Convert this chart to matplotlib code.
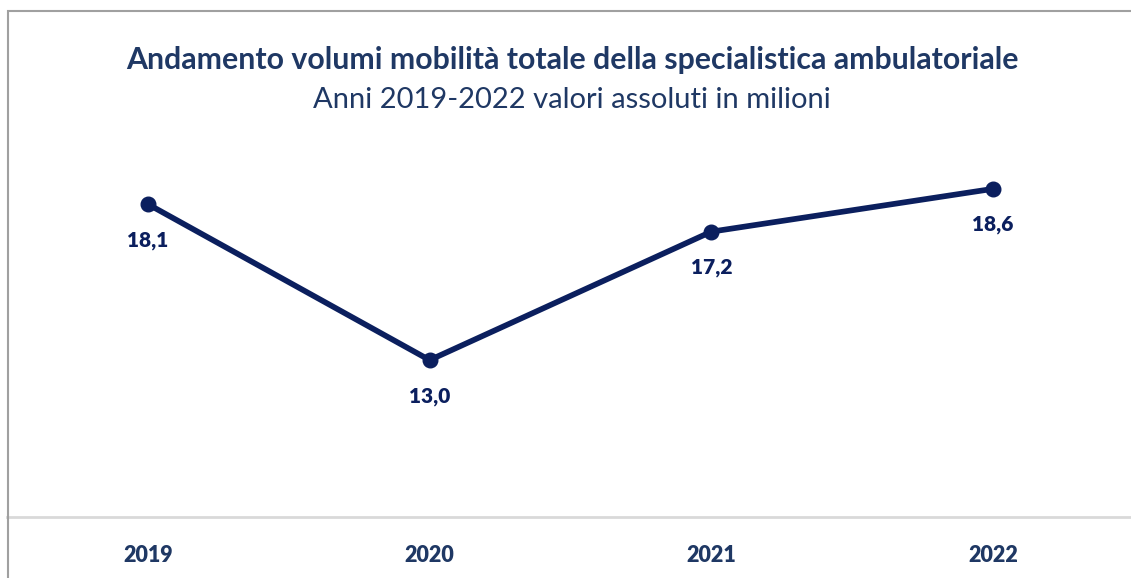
import matplotlib
matplotlib.use('Agg')
import matplotlib.pyplot as plt
from matplotlib.patches import Rectangle

# Dati: volumi di mobilità (milioni)
anni = ['2019', '2020', '2021', '2022']
volumi = [18.1, 13.0, 17.2, 18.6]

blu = '#0b1f5e'
blu_testo = '#1f3864'

plt.rcParams['font.family'] = ['Lato', 'DejaVu Sans']

fig = plt.figure(figsize=(11.31, 5.78), dpi=100)

# Cornice grigia del grafico
fig.patches.append(Rectangle((8 / 1131, -0.2), 1.2, 1.2 - 11 / 578,
                             transform=fig.transFigure, fill=False,
                             edgecolor='#a0a0a0', linewidth=1.5))

ax = fig.add_axes([7 / 1131, 1 - 517 / 578, 1127 / 1131, (517 - 150) / 578])
x = list(range(len(anni)))
ax.plot(x, volumi, color=blu, linewidth=4.1, marker='o', markersize=10.5,
        solid_capstyle='round')

for xi, v in zip(x, volumi):
    ax.annotate(f'{v:.1f}'.replace('.', ','), (xi, v), xytext=(0, -36),
                textcoords='offset pixels', ha='center', va='center',
                fontsize=15, fontweight='heavy', color=blu)

ax.set_xlim(-0.5, 3.5)
ax.set_ylim(7.87, 19.87)
ax.set_xticks(x)
ax.set_xticklabels(anni, fontsize=15.5, fontweight='heavy', color=blu_testo)
ax.tick_params(axis='x', length=0, pad=20)
ax.set_yticks([])
for s in ['top', 'left', 'right']:
    ax.spines[s].set_visible(False)
ax.spines['bottom'].set_color('#d9d9d9')
ax.spines['bottom'].set_linewidth(2)

fig.text(572 / 1131, 1 - 60 / 578, 'Andamento volumi mobilità totale della specialistica ambulatoriale',
         ha='center', va='center', fontsize=21.8, fontweight='bold', color=blu_testo)
fig.text(572 / 1131, 1 - 100 / 578, 'Anni 2019-2022 valori assoluti in milioni',
         ha='center', va='center', fontsize=21, color=blu_testo)

fig.savefig('out.png', dpi=100)
